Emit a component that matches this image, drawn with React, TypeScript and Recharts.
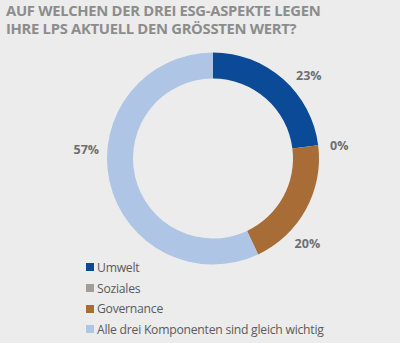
import React from 'react';
import { PieChart, Pie, Cell } from 'recharts';

const categories = ['Umwelt', 'Soziales', 'Governance', 'Alle drei Komponenten sind gleich wichtig'];
const shares = [23, 0, 20, 57];
const colors = ['#0b4a96', '#a29e97', '#a86d36', '#aec5e5'];

// where each percent label sits around the ring (degrees, counter-clockwise from 3 o'clock)
const labelAngles = [41, 6, -42, 176];
const labelRadius = 127;

const chartData = categories.map((name, i) => ({ name, value: shares[i], color: colors[i] }));

const RAD = Math.PI / 180;

const renderLabel = (props: any) => {
  const { index } = props;
  const cx = Number(props.cx);
  const cy = Number(props.cy);
  const a = labelAngles[index];
  const x = cx + labelRadius * Math.cos(a * RAD);
  const y = cy - labelRadius * Math.sin(a * RAD);
  return (
    <text
      x={x}
      y={y}
      textAnchor="middle"
      dominantBaseline="central"
      fill="#6f6f6f"
      fontSize={12.5}
      fontWeight={700}
      fontFamily="'Open Sans', sans-serif"
    >
      {`${shares[index]}%`}
    </text>
  );
};

const ChartLegend = () => (
  <div style={{ position: 'absolute', left: 86, top: 257, fontFamily: "'Open Sans', sans-serif" }}>
    {chartData.map((entry) => (
      <div
        key={entry.name}
        style={{
          display: 'flex',
          alignItems: 'center',
          height: 20.7,
          fontSize: 12.2,
          letterSpacing: -0.25,
          color: '#5a5a5a',
        }}
      >
        <span style={{ width: 8, height: 8, background: entry.color, marginRight: 3, display: 'inline-block' }} />
        {entry.name}
      </div>
    ))}
  </div>
);

export default function App() {
  return (
    <div
      style={{
        position: 'fixed',
        left: 0,
        top: 0,
        width: 400,
        height: 343,
        background: '#ececec',
        overflow: 'hidden',
      }}
    >
      <div
        style={{
          position: 'absolute',
          left: 6,
          top: 1,
          fontFamily: "'Open Sans', sans-serif",
          fontWeight: 700,
          fontSize: 14.8,
          lineHeight: '18px',
          color: '#8c8c8c',
          letterSpacing: -0.3,
        }}
      >
        AUF WELCHEN DER DREI ESG-ASPEKTE LEGEN
        <br />
        IHRE LPS AKTUELL DEN GRÖSSTEN WERT?
      </div>
      <div style={{ position: 'absolute', left: 0, top: 0 }}>
        <PieChart width={400} height={343} margin={{ top: 0, right: 0, bottom: 0, left: 0 }}>
          <Pie
            data={chartData}
            dataKey="value"
            cx={213}
            cy={158.5}
            innerRadius={80}
            outerRadius={106}
            startAngle={90}
            endAngle={-270}
            stroke="none"
            label={renderLabel}
            labelLine={false}
            isAnimationActive={false}
          >
            {chartData.map((entry, index) => (
              <Cell key={`cell-${index}`} fill={entry.color} />
            ))}
          </Pie>
        </PieChart>
      </div>
      <ChartLegend />
    </div>
  );
}
